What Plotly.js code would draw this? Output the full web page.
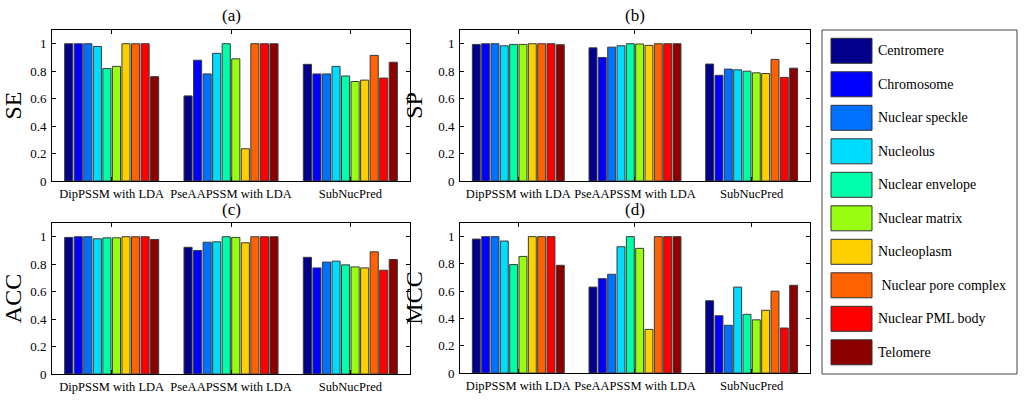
<!DOCTYPE html>
<html>
<head>
<meta charset="utf-8">
<script src="https://cdn.plot.ly/plotly-3.0.1.min.js"></script>
<style>
  body { margin: 0; background: #fff; }
  #chart { width: 1024px; height: 400px; }
</style>
</head>
<body>
<div id="chart"></div>
<script>
// predictors on the x axis
const methods = ['DipPSSM with LDA', 'PseAAPSSM with LDA', 'SubNucPred'];
// subnuclear locations (one bar per location in each group)
const locations = ['Centromere', 'Chromosome', 'Nuclear speckle', 'Nucleolus', 'Nuclear envelope',
  'Nuclear matrix', 'Nucleoplasm', ' Nuclear pore complex', 'Nuclear PML body', 'Telomere'];
const colors = ['#00008c', '#0000ff', '#0070ff', '#00dcff', '#00ffaa',
  '#99ff11', '#ffd000', '#ff6200', '#ff0000', '#8c0000'];

// (a) SE
const seDip = [1, 1, 1, 0.98, 0.82, 0.835, 1, 1, 1, 0.76];
const sePse = [0.62, 0.88, 0.78, 0.93, 1, 0.89, 0.235, 1, 1, 1];
const seSub = [0.85, 0.78, 0.78, 0.835, 0.765, 0.725, 0.735, 0.915, 0.75, 0.865];
// (b) SP
const spDip = [0.995, 1, 1, 0.985, 0.995, 0.995, 1, 1, 1, 0.993];
const spPse = [0.97, 0.90, 0.975, 0.985, 1, 0.998, 0.988, 1, 1, 1];
const spSub = [0.852, 0.77, 0.815, 0.81, 0.80, 0.788, 0.783, 0.886, 0.755, 0.822];
// (c) ACC
const accDip = [0.995, 1, 1, 0.985, 0.992, 0.992, 1, 1, 1, 0.98];
const accPse = [0.923, 0.90, 0.96, 0.963, 1, 0.995, 0.956, 1, 1, 1];
const accSub = [0.85, 0.773, 0.815, 0.822, 0.795, 0.78, 0.773, 0.89, 0.756, 0.834];
// (d) MCC
const mccDip = [0.982, 1, 1, 0.968, 0.795, 0.855, 1, 1, 1, 0.79];
const mccPse = [0.63, 0.692, 0.724, 0.926, 1, 0.914, 0.32, 1, 1, 1];
const mccSub = [0.53, 0.42, 0.35, 0.63, 0.43, 0.39, 0.46, 0.60, 0.33, 0.643];

const panels = [
  { name: 'SE', tag: '(a)', ax: '', vals: [seDip, sePse, seSub] },
  { name: 'SP', tag: '(b)', ax: '2', vals: [spDip, spPse, spSub] },
  { name: 'ACC', tag: '(c)', ax: '3', vals: [accDip, accPse, accSub] },
  { name: 'MCC', tag: '(d)', ax: '4', vals: [mccDip, mccPse, mccSub] }
];

const serif = '"Times New Roman", "Liberation Serif", "DejaVu Serif", serif';

let traces = [];
panels.forEach(p => {
  locations.forEach((loc, i) => {
    traces.push({
      type: 'bar',
      name: loc,
      x: methods,
      y: p.vals.map(v => v[i]),
      xaxis: 'x' + p.ax,
      yaxis: 'y' + p.ax,
      marker: { color: colors[i], line: { color: '#3a3a3a', width: 1 } },
      showlegend: false
    });
  });
});

// panel boxes in paper coords
const xdoms = [[0.0508, 0.4004], [0.4492, 0.791], [0.0508, 0.4004], [0.4492, 0.791]];
const ydoms = [[0.5475, 0.925], [0.5475, 0.925], [0.065, 0.4425], [0.0675, 0.4425]];

let layout = {
  width: 1024, height: 400,
  margin: { l: 0, r: 0, t: 0, b: 0 },
  paper_bgcolor: '#fff', plot_bgcolor: '#fff',
  barmode: 'group', bargap: 0.2, bargroupgap: 0.15,
  font: { family: serif, color: '#000', size: 12 },
  annotations: [], shapes: []
};

panels.forEach((p, k) => {
  layout['xaxis' + p.ax] = {
    domain: xdoms[k], anchor: 'y' + p.ax, type: 'category', range: [-0.5, 2.5],
    showline: true, mirror: 'ticks', linecolor: '#000', linewidth: 1,
    ticks: 'inside', ticklen: 4, tickcolor: '#000', showgrid: false,
    tickangle: 0, tickfont: { family: serif, size: 12.5 }, ticklabelstandoff: 1
  };
  layout['yaxis' + p.ax] = {
    domain: ydoms[k], anchor: 'x' + p.ax, range: [0, 1.1],
    tickvals: [0, 0.2, 0.4, 0.6, 0.8, 1], ticktext: ['0', '0.2', '0.4', '0.6', '0.8', '1'],
    showline: true, mirror: 'ticks', linecolor: '#000', linewidth: 1,
    ticks: 'inside', ticklen: 4, tickcolor: '#000', showgrid: false, zeroline: false,
    tickfont: { family: serif, size: 13 }, ticklabelstandoff: 2,
    title: { text: p.name, font: { family: serif, size: 24 }, standoff: 8 }
  };
  layout.annotations.push({
    text: p.tag, xref: 'paper', yref: 'paper',
    x: (xdoms[k][0] + xdoms[k][1]) / 2, y: ydoms[k][1] + 14 / 400,
    xanchor: 'center', yanchor: 'middle', showarrow: false,
    font: { family: serif, size: 17 }
  });
});

// legend drawn as a box with large swatches, like the original figure
const legX0 = 822 / 1024, legX1 = 1017 / 1024;
layout.shapes.push({
  type: 'rect', xref: 'paper', yref: 'paper',
  x0: legX0, x1: legX1, y0: 1 - 374 / 400, y1: 1 - 30 / 400,
  line: { color: '#444', width: 1 }, fillcolor: '#fff'
});
locations.forEach((loc, i) => {
  const top = 38.3 + i * 33.5;
  layout.shapes.push({
    type: 'rect', xref: 'paper', yref: 'paper',
    x0: 831 / 1024, x1: 872 / 1024, y0: 1 - (top + 25) / 400, y1: 1 - top / 400,
    line: { color: '#333', width: 1 }, fillcolor: colors[i]
  });
  layout.annotations.push({
    text: loc, xref: 'paper', yref: 'paper',
    x: 876 / 1024, y: 1 - (top + 12.5) / 400,
    xanchor: 'left', yanchor: 'middle', showarrow: false,
    font: { family: serif, size: 14 }
  });
});

Plotly.newPlot('chart', traces, layout, { displayModeBar: false, staticPlot: true });
</script>
</body>
</html>
